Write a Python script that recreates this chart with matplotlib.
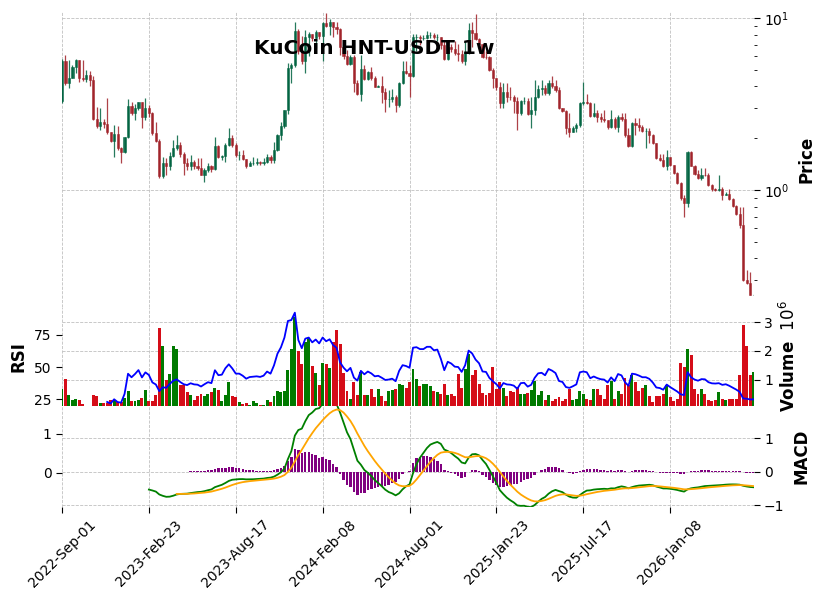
import numpy as np
import pandas as pd
import matplotlib
matplotlib.use("Agg")
import matplotlib.pyplot as plt
from matplotlib.ticker import FuncFormatter

# weekly candles, KuCoin HNT-USDT
start_date = "2022-09-01"
first_open = 3.3

close = [5.6, 4.2, 4.5, 5.2, 5.7, 4.5, 4.4, 4.64, 4.36, 2.59,
         2.37, 2.5, 2.42, 2.16, 1.94, 2.11, 1.75, 1.67, 2.02, 3.08,
         2.79, 2.99, 3.24, 2.67, 2.99, 2.79, 2.14, 1.94, 1.21, 1.43,
         1.37, 1.58, 1.75, 1.83, 1.62, 1.44, 1.37, 1.45, 1.37, 1.35,
         1.23, 1.31, 1.38, 1.33, 1.80, 1.56, 1.58, 1.83, 2.0, 1.83,
         1.6, 1.6, 1.51, 1.38, 1.43, 1.44, 1.45, 1.43, 1.46, 1.56,
         1.50, 1.71, 2.09, 2.36, 2.92, 5.1, 5.33, 8.4, 6.4, 5.6,
         7.8, 8.1, 7.6, 8.3, 7.9, 9.4, 9.0, 9.5, 8.9, 8.6,
         6.8, 6.0, 5.4, 5.9, 4.2, 3.6, 5.05, 4.4, 4.83, 4.5,
         3.98, 4.05, 3.73, 3.36, 3.4, 3.49, 3.12, 4.2, 4.9, 4.8,
         4.6, 7.7, 7.8, 7.6, 7.6, 8.0, 8.0, 7.7, 7.8, 7.0,
         5.75, 6.8, 6.6, 6.24, 6.2, 5.65, 6.37, 8.5, 8.2, 7.5,
         7.06, 5.96, 5.9, 4.99, 4.46, 3.95, 3.19, 3.73, 3.49, 3.45,
         3.3, 2.79, 3.27, 3.3, 2.76, 2.9, 3.46, 3.85, 3.9, 3.65,
         4.17, 4.02, 3.8, 2.99, 2.88, 2.28, 2.18, 2.28, 2.39, 3.19,
         3.25, 3.19, 2.69, 2.8, 2.67, 2.58, 2.55, 2.33, 2.58, 2.31,
         2.67, 2.58, 2.09, 1.81, 2.44, 2.4, 2.31, 2.2, 2.2, 2.1,
         1.87, 1.53, 1.49, 1.37, 1.55, 1.39, 1.25, 1.10, 0.90, 0.84,
         1.67, 1.38, 1.24, 1.17, 1.23, 1.22, 1.07, 1.01, 1.0, 1.01,
         0.935, 0.95, 0.887, 0.81, 0.73, 0.63, 0.30, 0.287, 0.245, 0.247]

high = [5.8, 6.1, 5.7, 5.33, 5.75, 5.7, 5.7, 5.0, 4.9, 4.6,
        3.05, 2.98, 2.6, 3.41, 2.18, 2.39, 2.36, 1.79, 2.04, 3.4,
        3.26, 3.15, 3.26, 3.26, 3.41, 3.1, 2.85, 2.5, 1.97, 1.56,
        1.53, 1.67, 1.95, 2.09, 1.91, 1.67, 1.53, 1.6, 1.5, 1.53,
        1.53, 1.34, 1.43, 1.40, 2.04, 1.82, 1.6, 1.87, 2.3, 2.09,
        1.87, 1.68, 1.71, 1.51, 1.47, 1.56, 1.53, 1.47, 1.53, 1.63,
        1.6, 1.91, 2.13, 2.5, 2.92, 5.45, 5.45, 9.5, 8.6, 7.9,
        8.5, 8.3, 8.1, 8.5, 8.3, 9.5, 10.7, 9.8, 9.5, 9.5,
        8.8, 7.3, 6.5, 6.1, 6.1, 4.36, 6.1, 5.33, 4.95, 5.2,
        4.6, 4.1, 4.6, 3.9, 3.8, 3.85, 3.57, 4.25, 5.6, 5.6,
        5.33, 8.1, 8.1, 8.0, 8.0, 8.4, 8.3, 8.2, 8.1, 7.8,
        7.3, 7.3, 7.1, 7.3, 7.1, 6.5, 7.3, 9.4, 9.5, 10.6,
        7.6, 7.1, 6.4, 6.0, 5.1, 4.5, 4.27, 4.17, 4.17, 3.99,
        3.57, 3.49, 3.34, 3.49, 3.41, 3.49, 4.36, 4.08, 4.36, 4.08,
        4.36, 4.6, 4.36, 3.99, 3.0, 2.92, 2.79, 2.35, 2.44, 3.26,
        4.27, 3.6, 3.26, 3.19, 2.92, 2.79, 2.92, 2.5, 2.92, 2.67,
        2.73, 2.79, 2.82, 2.28, 2.5, 2.61, 2.61, 2.39, 2.28, 2.28,
        2.12, 1.88, 1.62, 1.63, 1.71, 1.56, 1.4, 1.28, 1.12, 0.94,
        1.68, 1.68, 1.4, 1.31, 1.34, 1.34, 1.25, 1.08, 1.03, 1.22,
        1.04, 0.98, 1.02, 0.90, 0.82, 0.80, 0.80, 0.343, 0.335, 0.25]

low = [3.2, 4.07, 3.9, 4.45, 4.8, 4.27, 4.3, 4.27, 4.0, 2.55,
       2.28, 2.23, 2.28, 2.13, 1.91, 1.56, 1.70, 1.43, 1.65, 2.0,
       2.73, 2.55, 2.93, 2.28, 2.55, 2.67, 2.09, 1.9, 1.18, 1.17,
       1.22, 1.31, 1.56, 1.71, 1.56, 1.22, 1.30, 1.31, 1.33, 1.31,
       1.22, 1.12, 1.28, 1.28, 1.31, 1.53, 1.5, 1.46, 1.8, 1.79,
       1.56, 1.49, 1.49, 1.35, 1.37, 1.40, 1.40, 1.40, 1.39, 1.43,
       1.43, 1.43, 1.69, 1.95, 2.28, 2.75, 4.2, 5.2, 6.2, 5.4,
       4.8, 6.0, 7.3, 6.7, 7.5, 5.6, 8.9, 8.0, 7.8, 8.1,
       6.1, 5.8, 5.33, 5.33, 3.7, 3.55, 3.3, 4.36, 4.36, 4.36,
       3.95, 3.95, 3.19, 2.85, 3.05, 3.26, 2.85, 3.05, 4.15, 4.7,
       3.49, 4.55, 6.4, 7.0, 7.4, 7.5, 7.6, 7.5, 7.3, 6.6,
       5.7, 5.7, 6.3, 6.1, 5.6, 5.5, 5.3, 6.2, 6.8, 7.4,
       6.9, 5.85, 5.8, 4.9, 3.9, 3.8, 2.98, 2.98, 3.26, 3.34,
       2.79, 2.23, 2.73, 3.18, 2.73, 2.28, 2.73, 3.41, 3.57, 3.57,
       3.57, 3.9, 3.73, 2.95, 2.85, 2.13, 2.04, 2.16, 2.18, 2.33,
       3.12, 3.17, 2.64, 2.67, 2.5, 2.48, 2.49, 2.26, 2.28, 2.26,
       2.16, 2.52, 2.04, 1.77, 1.79, 2.09, 2.2, 2.18, 1.75, 1.87,
       1.86, 1.52, 1.47, 1.36, 1.31, 1.37, 1.24, 1.09, 0.88, 0.70,
       0.80, 1.37, 1.23, 1.16, 1.15, 1.2, 1.06, 0.99, 0.99, 0.99,
       0.875, 0.93, 0.875, 0.80, 0.72, 0.60, 0.295, 0.283, 0.244, 0.244]

# volume in millions
volume = [0.68, 1.01, 0.45, 0.27, 0.31, 0.27, 0.16, 0.0, 0.0, 0.45,
          0.41, 0.19, 0.19, 0.19, 0.27, 0.27, 0.21, 0.21, 0.37, 0.6,
          0.25, 0.25, 0.27, 0.36, 0.65, 0.25, 0.25, 0.47, 2.80, 2.17,
          0.98, 1.19, 2.17, 2.06, 0.8, 0.8, 0.57, 0.45, 0.3, 0.41,
          0.48, 0.41, 0.48, 0.57, 0.72, 0.65, 0.25, 0.45, 0.9, 0.43,
          0.39, 0.2, 0.16, 0.19, 0.1, 0.25, 0.17, 0.1, 0.1, 0.27,
          0.2, 0.41, 0.6, 0.57, 0.6, 1.33, 2.06, 3.2, 1.99, 1.54,
          2.32, 2.44, 1.47, 1.23, 0.8, 1.58, 1.54, 1.42, 2.32, 2.73,
          2.26, 1.23, 0.59, 0.33, 0.92, 0.45, 1.27, 0.45, 0.45, 0.66,
          0.39, 0.68, 0.41, 0.25, 0.6, 0.65, 0.68, 0.86, 0.8, 0.72,
          0.9, 1.36, 1.01, 0.76, 0.84, 0.84, 0.76, 0.6, 0.57, 0.48,
          0.86, 0.45, 0.48, 0.41, 1.19, 0.72, 1.36, 1.89, 1.15, 1.33,
          0.84, 0.53, 0.45, 0.53, 1.44, 0.68, 0.9, 0.72, 0.41, 0.6,
          0.57, 0.74, 0.48, 0.48, 0.53, 0.65, 0.95, 0.45, 0.6, 0.3,
          0.45, 0.25, 0.33, 0.39, 0.25, 0.31, 0.68, 0.27, 0.33, 0.6,
          0.48, 0.31, 0.3, 0.66, 0.68, 0.47, 0.31, 0.82, 0.95, 0.31,
          0.6, 0.48, 1.07, 0.8, 1.15, 0.9, 0.6, 0.72, 0.8, 0.41,
          0.2, 0.41, 0.41, 0.48, 0.8, 0.39, 0.25, 0.33, 1.58, 1.44,
          2.06, 1.85, 0.68, 0.48, 0.68, 0.48, 0.27, 0.25, 0.3, 0.55,
          0.33, 0.3, 0.31, 0.32, 0.33, 1.15, 2.9, 2.17, 1.15, 1.27]

title = "KuCoin HNT-USDT 1w"

n = len(close)
x = np.arange(n)
dates = pd.date_range(start_date, periods=n, freq="7D")
c = pd.Series(close)
o = c.shift(1).fillna(first_open)  # weekly open = previous close
vol = np.array(volume) * 1e6


def ema(s, span):
    # ema seeded with the simple mean of the first `span` values
    s = s.copy()
    first = s.first_valid_index()
    seed = first + span - 1
    s.iloc[seed] = s.iloc[first:seed + 1].mean()
    s.iloc[:seed] = np.nan
    return s.ewm(span=span, adjust=False).mean()


# indicators
delta = c.diff()
gain = delta.clip(lower=0).ewm(alpha=1 / 14, min_periods=13).mean()
loss = (-delta).clip(lower=0).ewm(alpha=1 / 14, min_periods=13).mean()
rsi = 100 - 100 / (1 + gain / loss)

macd = ema(c, 12) - ema(c, 26)
signal = ema(macd, 9)
hist = macd - signal

up = (c >= o).values
candle_col = np.where(up, "#006340", "#A02128")
vol_col = np.where(up, "#007a00", "#d50d18")

W, H = 823, 599
fig = plt.figure(figsize=(W / 100, H / 100), dpi=100)
left, width = 62 / W, (753.6 - 62) / W
ax0 = fig.add_axes([left, 1 - 307 / H, width, (307 - 12) / H])
ax1 = fig.add_axes([left, 1 - 406 / H, width, (406 - 307) / H], sharex=ax0)
ax2 = fig.add_axes([left, 1 - 507 / H, width, (507 - 406) / H], sharex=ax0)

fig.text(374 / W, 1 - 54 / H, title, ha="center", va="baseline",
         fontsize=14.5, fontweight="bold", zorder=0)

# price
ax0.set_yscale("log")
lo = np.minimum(np.minimum(low, o), c)
hi = np.maximum(np.maximum(high, o), c)
ax0.vlines(x, lo, hi, colors=candle_col, lw=0.9, alpha=0.85)
body_lo = np.minimum(o, c)
body_h = np.abs(c - o)
ax0.bar(x, body_h, bottom=body_lo, width=0.62, color=candle_col,
        edgecolor=candle_col, lw=0.4, alpha=0.9)
ax0.set_ylim(0.209, 10.83)

# volume + RSI
ax1b = ax1.twinx()
ax1.bar(x, vol, width=0.85, color=vol_col, lw=0)
ax1.set_ylim(0.074e6, 3.54e6)
ax1.set_yticks([1e6, 2e6, 3e6])
ax1.yaxis.set_major_formatter(FuncFormatter(lambda v, p: f"{v / 1e6:g}"))
ax1b.plot(x, rsi, color="blue", lw=1.3)
ax1b.set_ylim(19.8, 96.7)
ax1b.set_yticks([25, 50, 75])

# MACD
ax2b = ax2.twinx()
ax2.bar(x, hist, width=0.7, color="purple", lw=0)
ax2.set_ylim(-1.05, 1.96)
ax2.set_yticks([-1, 0, 1])
ax2b.plot(x, macd, color="green", lw=1.3)
ax2b.plot(x, signal, color="orange", lw=1.3)
ax2b.set_ylim(-0.89, 1.72)
ax2b.set_yticks([0, 1])

ax0.set_xlim(0, n - 1)
xt = list(range(0, n, 25))
ax2.set_xticks(xt)
ax2.set_xticklabels([dates[i].strftime("%Y-%b-%d") for i in xt], rotation=45)

for a in (ax0, ax1, ax2):
    a.yaxis.tick_right()
    a.grid(True, which="major", ls="--", lw=0.6, color="#c0c0c0")
    a.set_axisbelow(True)
for a in (ax1b, ax2b):
    a.yaxis.tick_left()
    a.yaxis.set_label_position("left")
    a.grid(False)
for a in (ax0, ax1, ax2, ax1b, ax2b):
    for s in a.spines.values():
        s.set_visible(False)
    a.tick_params(axis="y", which="major", length=4, labelsize=10)
    a.tick_params(axis="y", which="minor", length=2.5)
ax0.tick_params(axis="x", bottom=False, labelbottom=False)
ax1.tick_params(axis="x", bottom=False, labelbottom=False)
ax2.tick_params(axis="x", length=4, labelsize=10)

lab = dict(fontsize=12, fontweight="bold")
ax0.yaxis.set_label_position("right")
ax0.set_ylabel("Price", **lab)
ax0.yaxis.set_label_coords(1.063, 0.5)
ax1.yaxis.set_label_position("right")
ax1.set_ylabel("Volume  $10^{6}$", **lab)
ax1.yaxis.set_label_coords(1.037, 0.5)
ax1b.set_ylabel("RSI", **lab)
ax1b.yaxis.set_label_coords(-0.05, 0.5)
ax2.yaxis.set_label_position("right")
ax2.set_ylabel("MACD", **lab)
ax2.yaxis.set_label_coords(1.056, 0.5)

fig.savefig("out.png", dpi=100, facecolor="white")
